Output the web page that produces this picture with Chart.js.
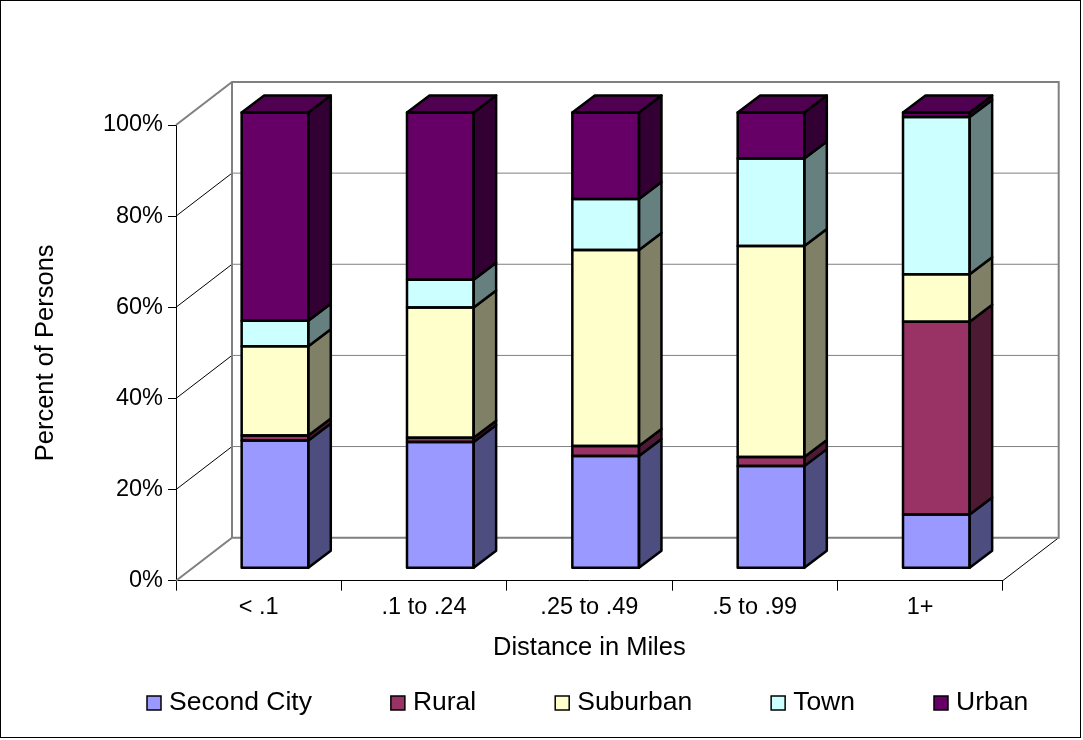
<!DOCTYPE html>
<html>
<head>
<meta charset="utf-8">
<script src="https://cdn.jsdelivr.net/npm/chart.js@4.4.0/dist/chart.umd.min.js"></script>
<style>
  body { margin: 0; background: #fff; }
  #wrap { position: relative; width: 1083px; height: 740px; }
</style>
</head>
<body>
<div id="wrap"><canvas id="chart"></canvas></div>
<script>
// data (percent of persons)
const categories = ["< .1", ".1 to .24", ".25 to .49", ".5 to .99", "1+"];
const secondCity = [28.0, 27.7, 24.6, 22.4, 11.8];
const rural = [1.1, 0.9, 2.2, 2.0, 42.3];
const suburban = [19.6, 28.6, 43.0, 46.3, 10.4];
const town = [5.6, 6.1, 11.2, 19.2, 34.5];
const urban = [45.7, 36.7, 19.0, 10.1, 1.0];
const yTicks = [0, 20, 40, 60, 80, 100];

const FONT = '"Liberation Sans", Arial, sans-serif';
Chart.defaults.font.family = FONT;
Chart.defaults.color = "#000";

// fake 3d: floor depth, bar front offset, bar depth
const DEPTH = { dx: 56, dy: -43 };
const FRONT = { dx: 16.3, dy: -12.5 };
const BAR = { dx: 22.5, dy: -17 };
const LEGEND = { x: 147, y: 703, box: 14, gap: 8, spacing: 79, size: 26.5 };

function shade(hex, f) {
  const n = parseInt(hex.slice(1), 16);
  const r = Math.round(((n >> 16) & 255) * f);
  const g = Math.round(((n >> 8) & 255) * f);
  const b = Math.round((n & 255) * f);
  return "rgb(" + r + "," + g + "," + b + ")";
}

function seg(ctx, x1, y1, x2, y2) {
  ctx.beginPath();
  ctx.moveTo(x1, y1);
  ctx.lineTo(x2, y2);
  ctx.stroke();
}

function poly(ctx, pts, fill) {
  ctx.beginPath();
  pts.forEach((p, i) => (i ? ctx.lineTo(p[0], p[1]) : ctx.moveTo(p[0], p[1])));
  ctx.closePath();
  ctx.fillStyle = fill;
  ctx.fill();
  ctx.stroke();
}

const box3d = {
  id: "box3d",
  beforeDraw(chart) {
    const ctx = chart.ctx;
    ctx.save();
    ctx.fillStyle = "#fff";
    ctx.fillRect(0, 0, chart.width, chart.height);
    ctx.strokeStyle = "#000";
    ctx.lineWidth = 1;
    ctx.strokeRect(0.5, 0.5, 1080, 737);
    ctx.restore();
  },
  beforeDatasetsDraw(chart) {
    const { ctx, chartArea: a, scales: { y } } = chart;
    const bx = a.left + DEPTH.dx, rx = a.right + DEPTH.dx;
    const top = y.getPixelForValue(100), bot = y.getPixelForValue(0);
    ctx.save();
    ctx.lineWidth = 1;
    yTicks.slice(1, -1).forEach((v) => {
      const py = y.getPixelForValue(v);
      ctx.strokeStyle = "#808080";
      seg(ctx, bx, py + DEPTH.dy, rx, py + DEPTH.dy);
      ctx.strokeStyle = "#000";
      seg(ctx, a.left, py, bx, py + DEPTH.dy);
    });
    ctx.strokeStyle = "#000";
    seg(ctx, a.right, bot, rx, bot + DEPTH.dy);
    // walls outline
    ctx.strokeStyle = "#808080";
    ctx.lineWidth = 2;
    ctx.beginPath();
    ctx.moveTo(a.left, top);
    ctx.lineTo(bx, top + DEPTH.dy);
    ctx.lineTo(rx, top + DEPTH.dy);
    ctx.lineTo(rx, bot + DEPTH.dy);
    ctx.lineTo(bx, bot + DEPTH.dy);
    ctx.lineTo(a.left, bot);
    ctx.moveTo(bx, top + DEPTH.dy);
    ctx.lineTo(bx, bot + DEPTH.dy);
    ctx.stroke();
    ctx.restore();
    // bars are pushed back into the box
    ctx.save();
    ctx.translate(FRONT.dx, FRONT.dy);
  },
  afterDatasetsDraw(chart) {
    const ctx = chart.ctx;
    ctx.restore();
    ctx.save();
    ctx.translate(FRONT.dx, FRONT.dy);
    ctx.strokeStyle = "#000";
    ctx.lineWidth = 2.5;
    ctx.lineJoin = "round";
    const last = chart.data.datasets.length - 1;
    chart.data.datasets.forEach((ds, i) => {
      chart.getDatasetMeta(i).data.forEach((bar) => {
        const { x, y, base, width } = bar.getProps(["x", "y", "base", "width"], true);
        const l = x - width / 2, r = x + width / 2;
        const t = Math.min(y, base), b = Math.max(y, base);
        // side face
        poly(ctx, [[r, t], [r + BAR.dx, t + BAR.dy], [r + BAR.dx, b + BAR.dy], [r, b]], shade(ds.backgroundColor, 0.5));
        // top face on the last stack
        if (i === last) {
          poly(ctx, [[l, t], [l + BAR.dx, t + BAR.dy], [r + BAR.dx, t + BAR.dy], [r, t]], shade(ds.backgroundColor, 0.78));
        }
        ctx.strokeRect(l, t, width, b - t);
      });
    });
    ctx.restore();
  },
  afterDraw(chart) {
    // LEGEND
    const ctx = chart.ctx;
    ctx.save();
    ctx.font = LEGEND.size + "px " + FONT;
    ctx.textBaseline = "middle";
    let x = LEGEND.x;
    chart.data.datasets.forEach((ds) => {
      const bt = LEGEND.y - LEGEND.box / 2;
      ctx.fillStyle = ds.backgroundColor;
      ctx.fillRect(x, bt, LEGEND.box, LEGEND.box);
      ctx.strokeStyle = "#000";
      ctx.lineWidth = 1.5;
      ctx.strokeRect(x, bt, LEGEND.box, LEGEND.box);
      ctx.fillStyle = "#000";
      ctx.fillText(ds.label, x + LEGEND.box + LEGEND.gap, LEGEND.y);
      x += LEGEND.box + LEGEND.gap + ctx.measureText(ds.label).width + LEGEND.spacing;
    });
    ctx.restore();
  }
};

const series = [
  ["Second City", secondCity, "#9999FF"],
  ["Rural", rural, "#993366"],
  ["Suburban", suburban, "#FFFFCC"],
  ["Town", town, "#CCFFFF"],
  ["Urban", urban, "#660066"]
];

new Chart(document.getElementById("chart"), {
  type: "bar",
  data: {
    labels: categories,
    datasets: series.map((s) => ({
      label: s[0],
      data: s[1],
      backgroundColor: s[2],
      borderWidth: 0,
      clip: false,
      categoryPercentage: 1,
      barPercentage: 0.403
    }))
  },
  options: {
    responsive: true,
    maintainAspectRatio: false,
    animation: false,
    layout: { padding: { left: 0, right: 80.3, top: 125, bottom: 76.7 } },
    plugins: {
      legend: { display: false },
      tooltip: { enabled: false }
    },
    scales: {
      x: {
        stacked: true,
        afterFit: (s) => { s.height = 82.6; },
        grid: { offset: true, drawOnChartArea: false, tickLength: 10, color: "#000" },
        border: { display: true, color: "#000", width: 1 },
        ticks: { font: { size: 23.5 }, padding: 3, maxRotation: 0, autoSkip: false },
        title: { display: true, text: "Distance in Miles", font: { size: 25.5 }, padding: { top: 0, bottom: 0 } }
      },
      y: {
        stacked: true,
        min: 0,
        max: 100,
        afterFit: (s) => { s.width = 176; },
        afterBuildTicks: (s) => { s.ticks = yTicks.map((v) => ({ value: v })); },
        grid: { drawOnChartArea: false, tickLength: 8, color: "#000" },
        border: { display: true, color: "#000", width: 1 },
        ticks: { font: { size: 23.5 }, padding: 5, callback: (v) => v + "%" },
        title: { display: true, text: "Percent of Persons", font: { size: 25.5 }, padding: { top: 30.7, bottom: 0 } }
      }
    }
  },
  plugins: [box3d]
});
</script>
</body>
</html>
